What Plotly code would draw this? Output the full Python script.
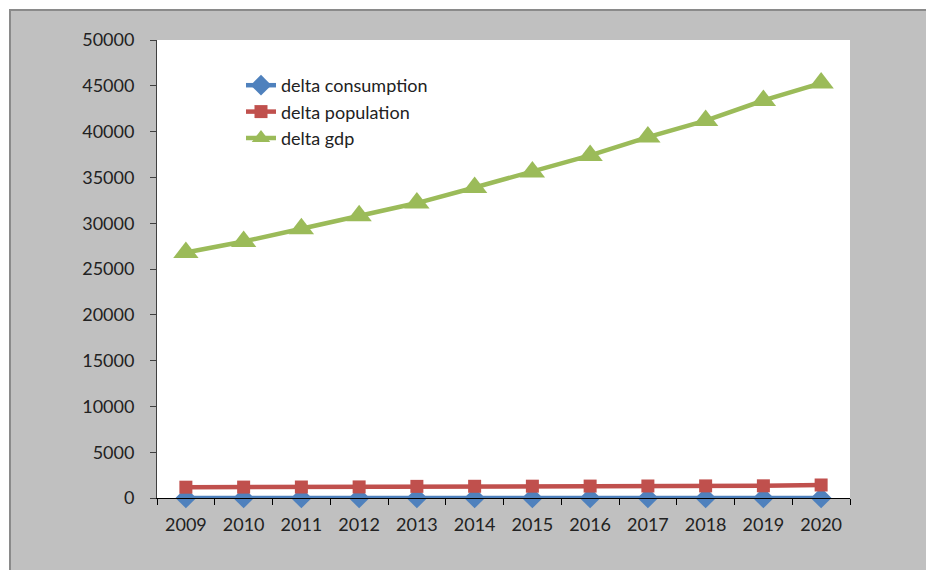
import plotly.graph_objects as go

years = ["2009", "2010", "2011", "2012", "2013", "2014", "2015", "2016", "2017", "2018", "2019", "2020"]
delta_consumption = [5, 5, 5, 5, 5, 5, 5, 5, 5, 5, 5, 5]
delta_population = [1180, 1190, 1200, 1210, 1270, 1280, 1290, 1300, 1310, 1320, 1330, 1420]
delta_gdp = [26800, 28000, 29400, 30800, 32200, 33900, 35600, 37400, 39400, 41200, 43400, 45300]

FONT = "Lato"
fig = go.Figure()
fig.add_trace(go.Scatter(x=years, y=delta_consumption, name="delta consumption",
                         mode="lines+markers", line=dict(color="#4F81BD", width=4.5),
                         marker=dict(symbol="diamond", size=16, color="#4F81BD"), cliponaxis=False))
fig.add_trace(go.Scatter(x=years, y=delta_population, name="delta population",
                         mode="lines+markers", line=dict(color="#C0504D", width=4.5),
                         marker=dict(symbol="square", size=13, color="#C0504D"), cliponaxis=False))
fig.add_trace(go.Scatter(x=years, y=delta_gdp, name="delta gdp",
                         mode="lines+markers", line=dict(color="#9BBB59", width=4.5),
                         marker=dict(symbol="triangle-up", size=22, color="#9BBB59"), cliponaxis=False))

W, H = 926, 570
L, R, T, B = 157, 76, 40, 72
pw, ph = W - L - R, H - T - B

def px_x(p):
    return (p - L) / pw

def px_y(p):
    return 1 - (p - T) / ph

fig.update_layout(
    width=W, height=H,
    margin=dict(l=L, r=R, t=T, b=B),
    paper_bgcolor="white",
    plot_bgcolor="white",
    font=dict(family=FONT, size=18, color="#222222"),
    showlegend=True,
    legend=dict(x=px_x(241), y=px_y(67), xanchor="left", yanchor="top",
                bgcolor="rgba(0,0,0,0)", font=dict(family=FONT, size=18, color="#222222")),
    shapes=[
        dict(type="rect", xref="paper", yref="paper", x0=px_x(10), x1=px_x(1000),
             y0=px_y(700), y1=px_y(10), fillcolor="#C0C0C0",
             line=dict(color="#8a8a8a", width=2), layer="below"),
        dict(type="rect", xref="paper", yref="paper", x0=0, x1=1, y0=0, y1=1,
             fillcolor="white", line=dict(width=0), layer="below"),
    ],
    xaxis=dict(type="category", range=[-0.5, len(years) - 0.5], showline=True,
               linecolor="#000000", linewidth=1,
               ticks="outside", ticklen=6, tickcolor="#000000", tickson="boundaries",
               showgrid=False, zeroline=False, ticklabelstandoff=10,
               tickfont=dict(family=FONT, size=18, color="#222222")),
    yaxis=dict(range=[0, 50000], dtick=5000, showline=True, linecolor="#404040", linewidth=1,
               ticks="outside", ticklen=6, tickcolor="#404040", showgrid=False, zeroline=False,
               ticklabelstandoff=12, tickformat="d",
               tickfont=dict(family=FONT, size=18, color="#222222")),
)

fig.write_html("out.html")
